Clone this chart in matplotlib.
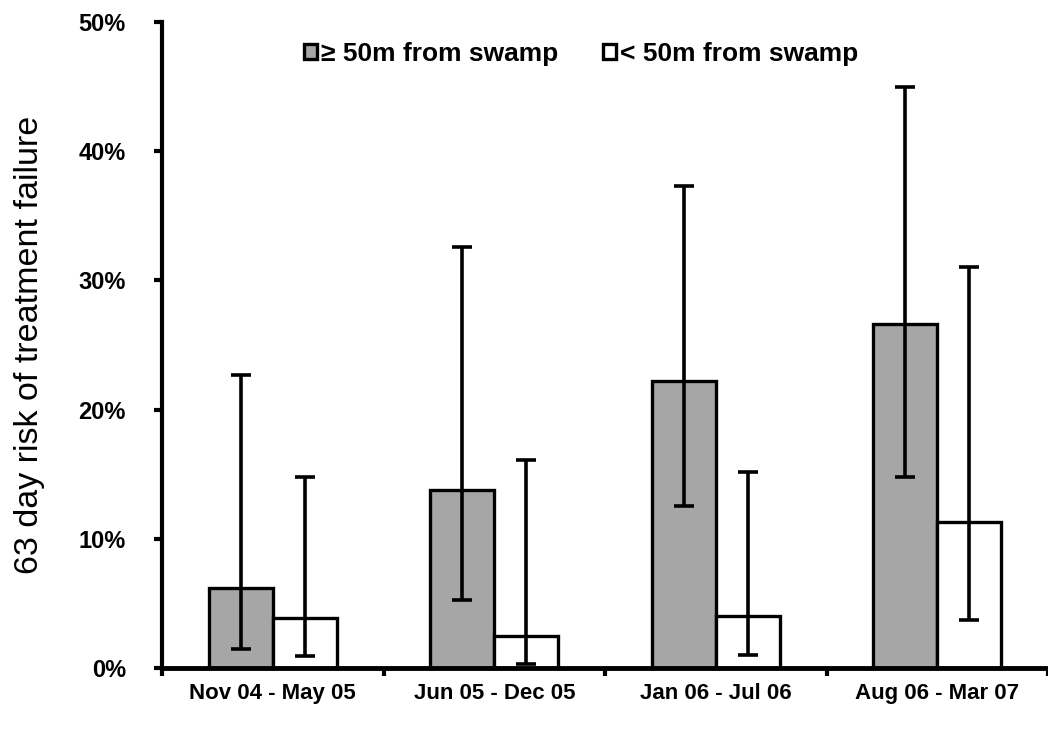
import matplotlib
matplotlib.use('Agg')
from matplotlib import pyplot as plt
import numpy as np

periods = ['Nov 04 - May 05', 'Jun 05 - Dec 05', 'Jan 06 - Jul 06', 'Aug 06 - Mar 07']
far_risk = [6.2, 13.8, 22.2, 26.6]
far_low = [1.5, 5.3, 12.5, 14.8]
far_high = [22.7, 32.6, 37.3, 45.0]
near_risk = [3.9, 2.5, 4.0, 11.3]
near_low = [0.9, 0.3, 1.0, 3.7]
near_high = [14.8, 16.1, 15.2, 31.0]

plt.rcParams['font.family'] = ['Liberation Sans', 'DejaVu Sans']

fig = plt.figure(figsize=(10.48, 7.39), dpi=100)
ax = fig.add_axes([0.1546, 0.0961, 0.8454, 0.8742])

x = np.arange(len(periods))
w = 0.29
far = np.array(far_risk)
near = np.array(near_risk)
far_err = [far - np.array(far_low), np.array(far_high) - far]
near_err = [near - np.array(near_low), np.array(near_high) - near]

ax.bar(x - w / 2, far, w, color='#a6a6a6', edgecolor='black', linewidth=2.4,
       label='\u2265 50m from swamp', zorder=2)
ax.bar(x + w / 2, near, w, color='white', edgecolor='black', linewidth=2.4,
       label='< 50m from swamp', zorder=2)
ax.errorbar(x - w / 2, far, yerr=far_err, fmt='none', ecolor='black',
            elinewidth=2.6, capsize=7, capthick=2.6, zorder=3)
ax.errorbar(x + w / 2, near, yerr=near_err, fmt='none', ecolor='black',
            elinewidth=2.6, capsize=7, capthick=2.6, zorder=3)

ax.set_xlim(-0.5, 3.5)
ax.set_ylim(0, 50)
ax.set_yticks(np.arange(0, 51, 10))
ax.set_yticklabels(['%d%%' % v for v in range(0, 51, 10)],
                   fontsize=17, fontweight='bold')
ax.set_xticks(x)
ax.set_xticklabels(periods, fontsize=16, fontweight='bold')
ax.tick_params(axis='x', which='major', length=0, pad=11)
ax.set_xticks(np.arange(-0.5, 3.6, 1), minor=True)
ax.tick_params(axis='x', which='minor', length=6, width=3, direction='out')
ax.tick_params(axis='y', length=6, width=3, direction='out', pad=20)

for s in ['top', 'right']:
    ax.spines[s].set_visible(False)
ax.spines['left'].set_linewidth(3)
ax.spines['bottom'].set_linewidth(3.5)

ax.set_ylabel('63 day risk of treatment failure', fontsize=24.5, labelpad=24)

ax.legend(loc='center', bbox_to_anchor=(0.473, 0.95), ncol=2, frameon=False,
          handlelength=0.5, handleheight=0.5, handletextpad=0.15,
          columnspacing=1.7, prop={'size': 19, 'weight': 'bold'})

fig.savefig('out.png', dpi=100)
